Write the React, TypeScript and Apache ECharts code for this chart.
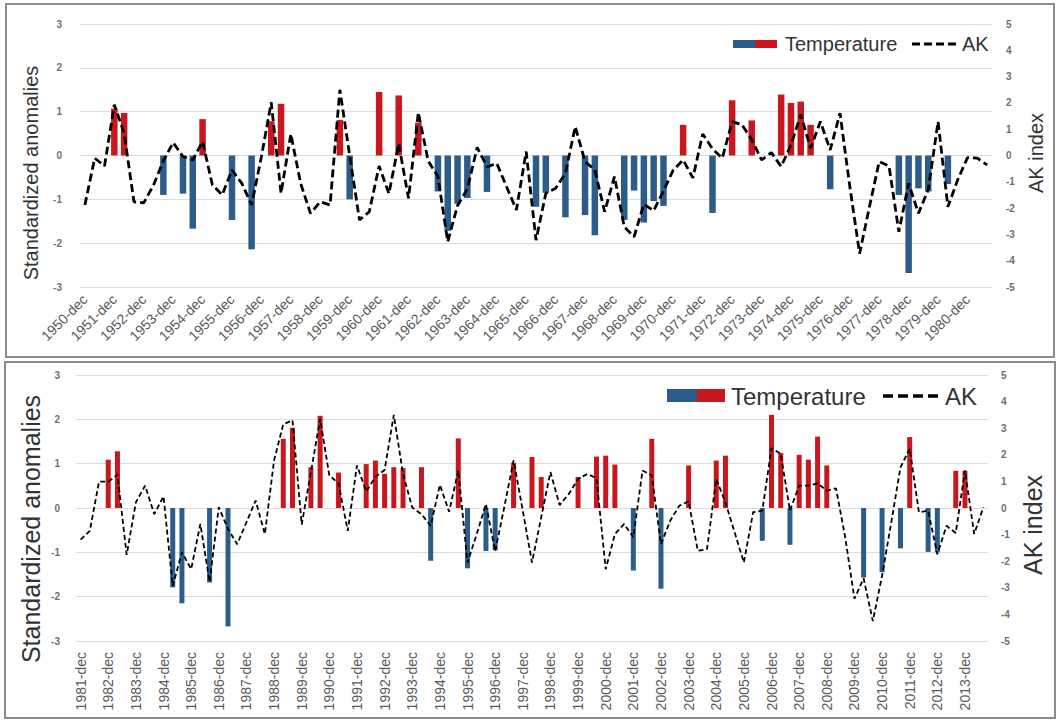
import React, { useEffect, useRef } from "react";
import * as echarts from "echarts";

// ---- Data ----
const topStartYear = 1950;
const topYearCount = 31;
const bottomStartYear = 1981;
const bottomYearCount = 33;
const winterMonths = ["dec", "jan", "feb"];

const leftTicks = [-3, -2, -1, 0, 1, 2, 3];
const rightTicks = [-5, -4, -3, -2, -1, 0, 1, 2, 3, 4, 5];

// Top panel (1950-dec .. 1981-feb)
const topAK = [
  -1.88, -0.1, -0.4, 1.93, 0.85, -1.76, -1.8, -1.12, -0.2, 0.49,
  -0.04, -0.17, 0.53, -1.12, -1.5, -0.55, -1.06, -1.88, -0.04, 2.02,
  -1.44, 0.82, -1.06, -2.2, -1.76, -1.88, 2.5, 0.0, -2.45, -2.14,
  -0.4, -1.45, 0.45, -1.63, 1.64, -0.2, -0.8, -3.28, -1.9, -1.27,
  0.31, -0.43, -0.3, -1.19, -2.07, 0.15, -3.22, -1.44, -1.25, -0.68,
  1.1, -0.23, -0.55, -2.14, -0.8, -2.71, -3.09, -1.85, -2.1, -1.35,
  -0.55, -0.17, -0.85, 0.82, 0.25, -0.1, 1.29, 1.17, 0.6, -0.17,
  0.11, -0.42, 0.4, 1.55, 0.28, 1.29, 0.21, 1.61, -1.18, -3.73,
  -1.95, -0.23, -0.4, -2.9, -1.06, -2.2, -1.3, 1.29, -1.95, -0.93,
  -0.08, -0.1, -0.36,
];

const topTemp = [
  null, null, null, 1.07, 0.97, null, null, null, -0.9, null,
  -0.87, -1.67, 0.83, null, null, -1.47, null, -2.14, null, 0.78,
  1.18, null, null, null, null, null, 0.81, -1.0, null, null,
  1.45, null, 1.37, null, 0.75, null, -0.82, -1.72, -1.1, -0.97,
  null, -0.83, null, null, null, null, -1.17, -0.85, null, -1.41,
  null, -1.36, -1.82, null, null, -1.47, -0.8, -1.53, -1.04, -1.15,
  null, 0.7, null, null, -1.31, null, 1.26, null, 0.8, null,
  null, 1.39, 1.2, 1.23, 0.7, null, -0.77, null, null, null,
  null, null, null, -0.9, -2.68, -0.75, -0.82, null, -0.65, null,
  null, null, null,
];

// Bottom panel (1981-dec .. 2014-feb)
const bottomAK = [
  -1.19, -0.86, 0.99, 0.99, 1.25, -1.76, 0.21, 0.84, -0.23, 0.44,
  -2.93, -1.67, -2.3, -0.6, -2.78, 0.03, -0.79, -1.36, -0.54, 0.28,
  -0.98, 1.79, 3.15, 3.3, -0.62, 1.35, 3.35, 1.22, 0.93, -0.86,
  1.6, 0.62, 1.17, 1.43, 3.5, 1.28, 0.02, -0.23, -0.67, 0.87,
  -0.14, 1.41, -2.05, -0.98, 0.15, -1.63, 0.05, 1.79, -0.1, -2.05,
  -0.35, 1.35, 0.11, 0.53, 1.09, 1.28, 1.12, -2.3, -0.98, -0.6,
  -1.1, 1.41, 1.22, -1.36, -0.48, 0.09, 0.25, -1.61, -1.55, 1.09,
  0.21, -0.92, -2.05, -0.16, -0.1, 2.25, 2.04, -0.1, 0.84, 0.84,
  0.93, 0.65, 0.74, -1.1, -3.41, -2.65, -4.25, -2.55, -0.54, 1.53,
  2.23, -0.16, -0.1, -1.74, -0.67, -0.94, 1.41, -0.98, 0.03,
];

const bottomTemp = [
  null, null, null, 1.09, 1.28, null, null, null, null, null,
  -1.79, -2.15, null, null, -1.68, null, -2.67, null, null, null,
  null, null, 1.56, 1.81, null, 0.92, 2.08, null, 0.8, null,
  null, 0.99, 1.07, 0.77, 0.92, 0.9, null, 0.92, -1.19, null,
  null, 1.57, -1.36, null, -0.97, -0.95, null, 1.02, null, 1.15,
  0.7, null, null, null, 0.7, null, 1.16, 1.18, 0.98, null,
  -1.41, null, 1.56, -1.82, null, null, 0.96, null, null, 1.07,
  1.18, null, null, null, -0.74, 2.1, 1.24, -0.83, 1.2, 1.09,
  1.61, 0.96, null, null, null, -1.57, null, -1.45, null, -0.91,
  1.6, null, -0.99, -1.0, null, 0.84, 0.84, null, null,
];

// ---- Styles ----
const RED = "#c8171e";
const BLUE = "#2c5d8a";
const FONT = "Liberation Sans, Arial, sans-serif";
const TICK_COLOR = "#6e6e6e";
const TEXT_COLOR = "#333333";
const GRID_COLOR = "#dcdcdc";

function makeCategories(startYear: number, yearCount: number): string[] {
  const cats: string[] = [];
  for (let y = startYear; y < startYear + yearCount; y++) {
    cats.push(`${y}-${winterMonths[0]}`);
    cats.push(`${y + 1}-${winterMonths[1]}`);
    cats.push(`${y + 1}-${winterMonths[2]}`);
  }
  return cats;
}

const topCats = makeCategories(topStartYear, topYearCount);
const bottomCats = makeCategories(bottomStartYear, bottomYearCount);

function barColor(p: any) {
  return p.value >= 0 ? RED : BLUE;
}

export default function App() {
  const ref = useRef<HTMLDivElement>(null);

  useEffect(() => {
    if (!ref.current) return;
    const chart = echarts.init(ref.current, undefined, { renderer: "svg" });

    const leftAxis = (gridIndex: number, margin: number) => ({
      type: "value",
      gridIndex,
      position: "left",
      min: leftTicks[0],
      max: leftTicks[leftTicks.length - 1],
      interval: 1,
      axisLine: { show: false },
      axisTick: { show: false },
      axisLabel: {
        color: TICK_COLOR,
        fontSize: 10,
        fontWeight: "bold",
        fontFamily: FONT,
        margin,
      },
      splitLine: { show: true, lineStyle: { color: GRID_COLOR, width: 1 } },
    });
    const rightAxis = (gridIndex: number, margin: number) => ({
      type: "value",
      gridIndex,
      position: "right",
      min: rightTicks[0],
      max: rightTicks[rightTicks.length - 1],
      interval: 1,
      axisLine: { show: false },
      axisTick: { show: false },
      axisLabel: {
        color: TICK_COLOR,
        fontSize: 10,
        fontWeight: "bold",
        fontFamily: FONT,
        margin,
      },
      splitLine: { show: false },
    });

    const option: any = {
      animation: false,
      backgroundColor: "#ffffff",
      grid: [
        { left: 80, top: 24, width: 912, height: 263, containLabel: false },
        { left: 76, top: 375, width: 912, height: 266, containLabel: false },
      ],
      xAxis: [
        {
          type: "category",
          gridIndex: 0,
          data: topCats,
          axisLine: { show: false },
          axisTick: { show: false },
          axisLabel: {
            interval: 2,
            rotate: 45,
            margin: 10,
            color: "#595959",
            fontSize: 14,
            fontFamily: FONT,
          },
        },
        {
          type: "category",
          gridIndex: 1,
          data: bottomCats,
          axisLine: { show: false },
          axisTick: { show: false },
          axisLabel: {
            interval: 2,
            rotate: 90,
            margin: 11,
            color: "#595959",
            fontSize: 14,
            fontFamily: FONT,
          },
        },
      ],
      yAxis: [leftAxis(0, 18), rightAxis(0, 14), leftAxis(1, 16), rightAxis(1, 13)],
      series: [
        {
          name: "Temperature",
          type: "bar",
          xAxisIndex: 0,
          yAxisIndex: 0,
          data: topTemp,
          barWidth: 6.5,
          itemStyle: { color: barColor },
          z: 2,
        },
        {
          name: "AK",
          type: "line",
          xAxisIndex: 0,
          yAxisIndex: 1,
          data: topAK,
          showSymbol: false,
          symbol: "none",
          lineStyle: { color: "#000000", width: 2.8, type: [8, 4] },
          z: 3,
        },
        {
          name: "Temperature",
          type: "bar",
          xAxisIndex: 1,
          yAxisIndex: 2,
          data: bottomTemp,
          barWidth: 5,
          itemStyle: { color: barColor },
          z: 2,
        },
        {
          name: "AK",
          type: "line",
          xAxisIndex: 1,
          yAxisIndex: 3,
          data: bottomAK,
          showSymbol: false,
          symbol: "none",
          lineStyle: { color: "#000000", width: 1.8, type: [5, 3] },
          z: 3,
        },
      ],
      graphic: [
        // panel borders
        {
          type: "rect",
          shape: { x: 6, y: 4, width: 1048, height: 353 },
          style: { fill: "none", stroke: "#8c8c8c", lineWidth: 2 },
          silent: true,
        },
        {
          type: "rect",
          shape: { x: 5, y: 362, width: 1050, height: 356 },
          style: { fill: "none", stroke: "#8c8c8c", lineWidth: 2 },
          silent: true,
        },
        // axis titles top
        {
          type: "text",
          x: 31,
          y: 173,
          rotation: Math.PI / 2,
          style: {
            text: "Standardized anomalies",
            fontSize: 20,
            fontFamily: FONT,
            fill: TEXT_COLOR,
            align: "center",
            verticalAlign: "middle",
          },
        },
        {
          type: "text",
          x: 1036,
          y: 153,
          rotation: Math.PI / 2,
          style: {
            text: "AK index",
            fontSize: 20,
            fontFamily: FONT,
            fill: TEXT_COLOR,
            align: "center",
            verticalAlign: "middle",
          },
        },
        // axis titles bottom
        {
          type: "text",
          x: 31,
          y: 529,
          rotation: Math.PI / 2,
          style: {
            text: "Standardized anomalies",
            fontSize: 25,
            fontFamily: FONT,
            fill: TEXT_COLOR,
            align: "center",
            verticalAlign: "middle",
          },
        },
        {
          type: "text",
          x: 1033,
          y: 525,
          rotation: Math.PI / 2,
          style: {
            text: "AK index",
            fontSize: 25,
            fontFamily: FONT,
            fill: TEXT_COLOR,
            align: "center",
            verticalAlign: "middle",
          },
        },
        // legend top
        { type: "rect", shape: { x: 733, y: 40, width: 22, height: 8 }, style: { fill: BLUE } },
        { type: "rect", shape: { x: 755, y: 40, width: 22, height: 8 }, style: { fill: RED } },
        {
          type: "text",
          x: 785,
          y: 44,
          style: {
            text: "Temperature",
            fontSize: 20,
            fontFamily: FONT,
            fill: TEXT_COLOR,
            align: "left",
            verticalAlign: "middle",
          },
        },
        {
          type: "line",
          shape: { x1: 912, y1: 44, x2: 958, y2: 44 },
          style: { stroke: "#000000", lineWidth: 3, lineDash: [8, 4] },
        },
        {
          type: "text",
          x: 962,
          y: 44,
          style: {
            text: "AK",
            fontSize: 20,
            fontFamily: FONT,
            fill: TEXT_COLOR,
            align: "left",
            verticalAlign: "middle",
          },
        },
        // legend bottom
        { type: "rect", shape: { x: 667, y: 389, width: 30, height: 13 }, style: { fill: BLUE } },
        { type: "rect", shape: { x: 697, y: 389, width: 28, height: 13 }, style: { fill: RED } },
        {
          type: "text",
          x: 731,
          y: 396,
          style: {
            text: "Temperature",
            fontSize: 24,
            fontFamily: FONT,
            fill: TEXT_COLOR,
            align: "left",
            verticalAlign: "middle",
          },
        },
        {
          type: "line",
          shape: { x1: 883, y1: 396, x2: 941, y2: 396 },
          style: { stroke: "#000000", lineWidth: 3.5, lineDash: [10, 5] },
        },
        {
          type: "text",
          x: 945,
          y: 396,
          style: {
            text: "AK",
            fontSize: 24,
            fontFamily: FONT,
            fill: TEXT_COLOR,
            align: "left",
            verticalAlign: "middle",
          },
        },
      ],
    };

    chart.setOption(option);
    return () => chart.dispose();
  }, []);

  return (
    <div
      ref={ref}
      style={{ position: "absolute", left: 0, top: 0, width: 1059, height: 720 }}
    />
  );
}
